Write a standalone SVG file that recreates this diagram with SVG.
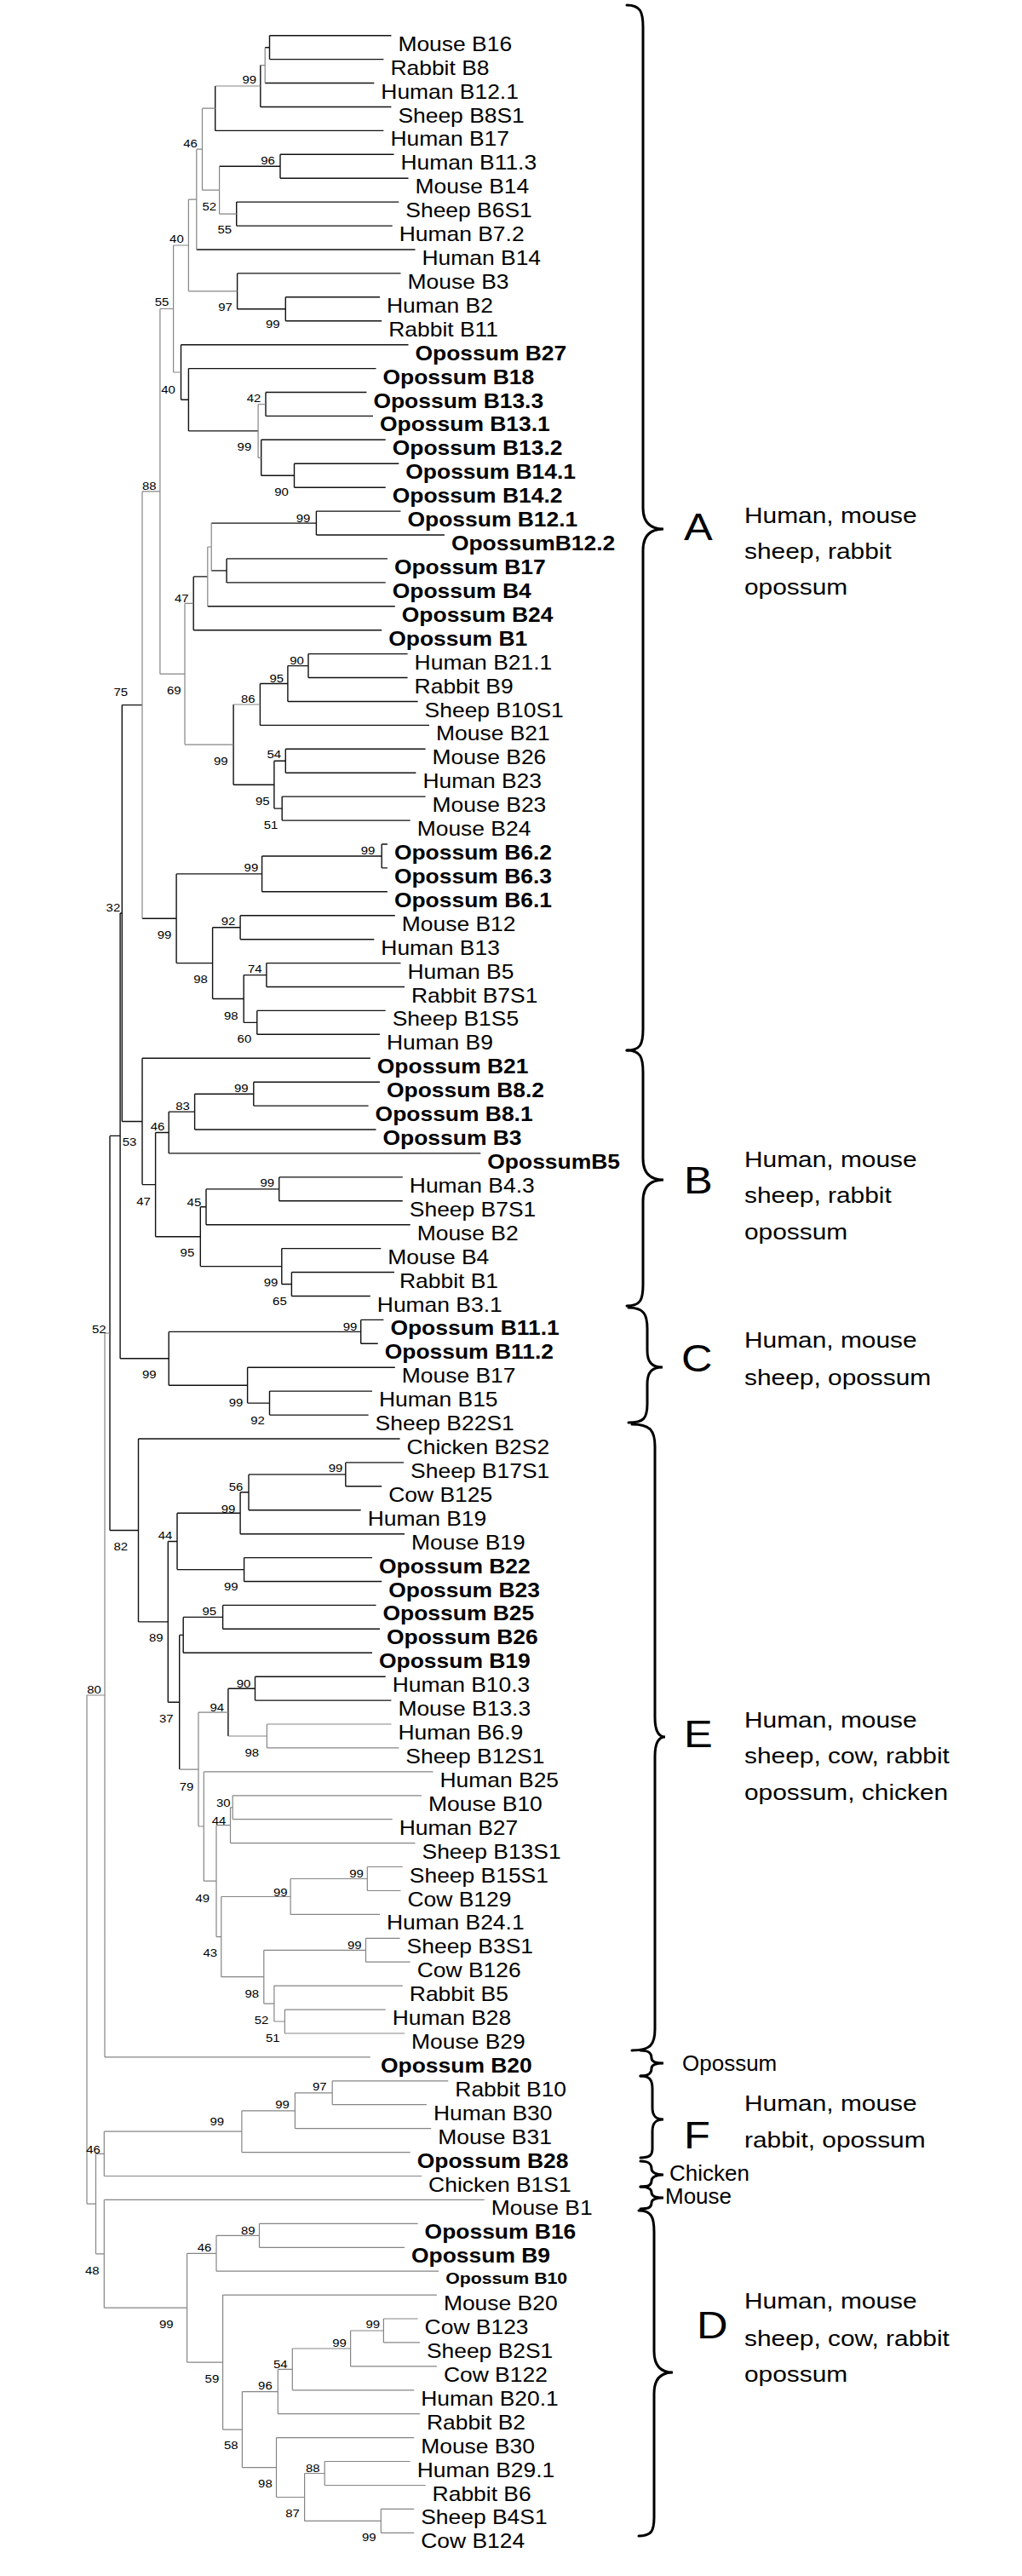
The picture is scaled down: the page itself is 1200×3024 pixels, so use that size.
<svg xmlns="http://www.w3.org/2000/svg" width="1200" height="3024" viewBox="0 0 1200 3024">
<style>
text{font-family:"Liberation Sans",Arial,Helvetica,sans-serif;fill:#000}
.l{font-size:23px}
.b{font-size:23px;font-weight:bold}
.s{font-size:18.5px;font-weight:bold}
.n{font-size:13px}
.gl{font-size:26px}
.L{font-size:44px}
.k{stroke:#111;stroke-width:1.4;fill:none}
.g{stroke:#858585;stroke-width:1.2;fill:none}
.br{stroke:#000;stroke-width:3;fill:none;stroke-linecap:round}
</style>
<rect width="1200" height="3024" fill="#fff"/>
<g id="connectors">
<path class="k" d="M316.5 41.7H459.4M316.5 69.6H450.4M311.2 97.5H439.3M305.8 125.5H459.4M252.7 153.4H450.4M329 181.3H462.5M329 209.2H479.5M277.7 237.1H468.3M277.7 265.1H460.7M230.8 293H487.5M278.6 320.9H470.5M335.3 348.8H446M335.3 376.7H448.2M212.5 404.7H479.5M221.4 432.6H441.5M312 460.5H430.4M312 488.4H438M306.7 516.3H452.7M345.5 544.3H468.3M345.5 572.2H452.7M371.4 600.1H470.5M371.4 628H521.9M266.1 655.9H454.9M266.1 683.9H452.7M243.8 711.8H463.8M227.2 739.7H448.2M362 767.6H478.6M362 795.5H478.6M337.9 823.5H490.6M305.4 851.4H504M335.3 879.3H499.6M335.3 907.2H488.4M331.2 935.1H499.6M331.2 963.1H481.7M448.2 991H454.9M448.2 1018.9H454.9M307.6 1046.8H454.9M282.1 1074.7H463.8M282.1 1102.7H439.3M312.9 1130.6H470.5M312.9 1158.5H475M301.8 1186.4H452.7M301.8 1214.3H446M167 1242.3H434.8M297.8 1270.2H446M297.8 1298.1H432.6M228.6 1326H441.5M198.2 1353.9H564.3M327.7 1381.9H472.8M327.7 1409.8H472.8M242 1437.7H481.7M330.8 1465.6H447.3M342.4 1493.5H463M342.4 1521.5H434.8M423.7 1549.4H450.4M423.7 1577.3H443.7M290.6 1605.2H463.8M316.5 1633.1H437M316.5 1661.1H432.6M162.5 1689H469.6M405.8 1716.9H474.1M405.8 1744.8H448.2M292 1772.7H423.7M282.1 1800.7H475M286.6 1828.6H437M286.6 1856.5H448.2M261.6 1884.4H441.5M261.6 1912.3H446M215.2 1940.3H437M299.5 1968.2H452.7M299.5 1996.1H459.4"/>
<path class="g" d="M313.4 2024H459.4M313.4 2051.9H468.3M239.3 2079.9H508.5M273.2 2107.8H495.1M273.2 2135.7H460.7M270.5 2163.6H487.5M431.3 2191.5H472.8M431.3 2219.5H470.5M341.1 2247.4H446M429.5 2275.3H469.6M429.5 2303.2H481.7M321.9 2331.1H472.8M334.4 2359.1H452.7M334.4 2387H475M123 2414.9H434.8M390.2 2442.8H526.3M390.2 2470.7H500.9M346.4 2498.7H506.2M283.9 2526.6H481.7M122.3 2554.5H495.1M122.3 2582.4H568.7M304.5 2610.3H490.6M304.5 2638.3H475M254 2666.2H515.2M261.6 2694.1H512.9M450.4 2722H490.6M450.4 2749.9H492.9M411.6 2777.9H512.9M343.3 2805.8H486.2M326.3 2833.7H492.9M324.5 2861.6H486.2M381.2 2889.5H481.7M381.2 2917.5H499.6M447.3 2945.4H486.2M447.3 2973.3H486.2"/>
<path class="k" d="M316.5 41.7V69.6M311.2 55.7H316.5M305.8 76.6V125.5M252.7 101V153.4M329 181.3V209.2M257.6 195.3H329M277.7 237.1V265.1M335.3 348.8V376.7M278.6 362.8H335.3M278.6 320.9V362.8M312 460.5V488.4M345.5 544.3V572.2M306.7 558.3H345.5M306.7 516.3V558.3M221.4 505.9H303.1M221.4 432.6V505.9M212.5 469.3H221.4M212.5 404.7V469.3M371.4 600.1V628M248.2 614.1H371.4M266.1 655.9V683.9M248.2 669.9H266.1M227.2 676.9H243.8M227.2 676.9V739.7M362 767.6V795.5M337.9 781.6H362M337.9 781.6V823.5M305.4 802.5H337.9M305.4 802.5V851.4M335.3 879.3V907.2M321.9 893.3H335.3M331.2 935.1V963.1M321.9 949.1H331.2M321.9 893.3V949.1M274.1 921.2H321.9M274.1 827V921.2M448.2 991V1018.9M307.6 1005H448.2M307.6 1005V1046.8M207.1 1025.9H307.6M282.1 1074.7V1102.7M249.6 1088.7H282.1M312.9 1130.6V1158.5M286.2 1144.6H312.9M301.8 1186.4V1214.3M286.2 1200.4H301.8M286.2 1144.6V1200.4M249.6 1172.5H286.2M249.6 1088.7V1172.5M207.1 1130.6H249.6M207.1 1025.9V1130.6M167 1078.3H207.1M143.3 827.6H167M297.8 1270.2V1298.1M228.6 1284.2H297.8M228.6 1284.2V1326M198.2 1305.1H228.6M198.2 1305.1V1353.9M182.6 1329.5H198.2M327.7 1381.9V1409.8M242 1395.9H327.7M242 1395.9V1437.7M235.3 1416.8H242M342.4 1493.5V1521.5M330.8 1507.5H342.4M330.8 1465.6V1507.5M235.3 1486.6H330.8M235.3 1416.8V1486.6M182.6 1451.7H235.3M182.6 1329.5V1451.7M167 1390.6H182.6M167 1242.3V1390.6M143.3 1316.5H167M143.3 827.6V1316.5M141.1 1072H143.3M423.7 1549.4V1577.3M198.2 1563.4H423.7M316.5 1633.1V1661.1M290.6 1647.1H316.5M290.6 1605.2V1647.1M198.2 1626.2H290.6M198.2 1563.4V1626.2M141.1 1594.8H198.2M141.1 1072V1594.8M129 1333.4H141.1M405.8 1716.9V1744.8M292 1730.9H405.8M292 1730.9V1772.7M282.1 1751.8H292M282.1 1751.8V1800.7M208 1776.3H282.1M286.6 1828.6V1856.5M208 1842.6H286.6M208 1776.3V1842.6M197.3 1809.5H208M261.6 1884.4V1912.3M215.2 1898.4H261.6M215.2 1898.4V1940.3M210.7 1919.4H215.2M299.5 1968.2V1996.1M267.9 1982.2H299.5M267.9 1982.2V2038M210.7 1919.4V2077.1M197.3 1998.3H210.7M197.3 1809.5V1998.3M162.5 1903.9H197.3M162.5 1689V1903.9M129 1796.5H162.5M129 1333.4V1796.5"/>
<path class="g" d="M311.2 55.7V97.5M305.8 76.6H311.2M252.7 101H305.8M237.5 127.2H252.7M257.6 251.1H277.7M257.6 195.3V251.1M237.5 223.2H257.6M237.5 127.2V223.2M230.8 175.2H237.5M230.8 175.2V293M221.4 234.1H230.8M221.4 341.8H278.6M221.4 234.1V341.8M203.6 288H221.4M303.1 474.5H312M303.1 537.3H306.7M303.1 474.5V537.3M203.6 437H212.5M203.6 288V437M187.9 362.5H203.6M248.2 614.1V669.9M243.8 642H248.2M243.8 642V711.8M217 708.3H227.2M274.1 827H305.4M217 874.1H274.1M217 708.3V874.1M187.9 791.2H217M187.9 362.5V791.2M167 576.9H187.9M167 576.9V1078.3M123 1565H129M233 2010.1H267.9M313.4 2024V2051.9M267.9 2038H313.4M273.2 2107.8V2135.7M270.5 2121.8H273.2M270.5 2121.8V2163.6M254 2142.7H270.5M431.3 2191.5V2219.5M341.1 2205.5H431.3M341.1 2205.5V2247.4M259.8 2226.5H341.1M429.5 2275.3V2303.2M309.8 2289.3H429.5M334.4 2359.1V2387M321.9 2373H334.4M321.9 2331.1V2373M309.8 2352.1H321.9M309.8 2289.3V2352.1M259.8 2320.7H309.8M259.8 2226.5V2320.7M254 2273.6H259.8M254 2142.7V2273.6M239.3 2208.2H254M239.3 2079.9V2208.2M233 2144H239.3M233 2010.1V2144M210.7 2077.1H233M123 1565V2414.9M102 1990H123M390.2 2442.8V2470.7M346.4 2456.8H390.2M346.4 2456.8V2498.7M283.9 2477.8H346.4M283.9 2477.8V2526.6M122.3 2502.2H283.9M122.3 2502.2V2554.5M112.5 2528.4H122.3M304.5 2610.3V2638.3M254 2624.3H304.5M254 2624.3V2666.2M219.6 2645.3H254M450.4 2722V2749.9M411.6 2736H450.4M411.6 2736V2777.9M343.3 2757H411.6M343.3 2757V2805.8M326.3 2781.4H343.3M326.3 2781.4V2833.7M284.4 2807.6H326.3M381.2 2889.5V2917.5M357.6 2903.5H381.2M447.3 2945.4V2973.3M357.6 2959.4H447.3M357.6 2903.5V2959.4M324.5 2931.5H357.6M324.5 2861.6V2931.5M284.4 2896.6H324.5M284.4 2807.6V2896.6M261.6 2852.1H284.4M261.6 2694.1V2852.1M219.6 2773.1H261.6M219.6 2645.3V2773.1M122.3 2709.2H219.6M122.3 2582.4V2709.2M112.5 2645.8H122.3M112.5 2528.4V2645.8M102 2587.1H112.5M102 1990V2587.1"/>
</g>
<g id="bootstrap">
<text class="n" transform="translate(284.4 97.7)scale(1.15 1)">99</text>
<text class="n" transform="translate(215.2 173.3)scale(1.15 1)">46</text>
<text class="n" transform="translate(306.3 192.7)scale(1.15 1)">96</text>
<text class="n" transform="translate(237.5 246.7)scale(1.15 1)">52</text>
<text class="n" transform="translate(255.4 274)scale(1.15 1)">55</text>
<text class="n" transform="translate(199.1 285)scale(1.15 1)">40</text>
<text class="n" transform="translate(181.7 359)scale(1.15 1)">55</text>
<text class="n" transform="translate(256.3 365)scale(1.15 1)">97</text>
<text class="n" transform="translate(312 385)scale(1.15 1)">99</text>
<text class="n" transform="translate(189.3 461.7)scale(1.15 1)">40</text>
<text class="n" transform="translate(289.7 471.7)scale(1.15 1)">42</text>
<text class="n" transform="translate(278.6 529.3)scale(1.15 1)">99</text>
<text class="n" transform="translate(167 575)scale(1.15 1)">88</text>
<text class="n" transform="translate(322.3 581.7)scale(1.15 1)">90</text>
<text class="n" transform="translate(347.8 613.3)scale(1.15 1)">99</text>
<text class="n" transform="translate(204.9 706.7)scale(1.15 1)">47</text>
<text class="n" transform="translate(340.2 780)scale(1.15 1)">90</text>
<text class="n" transform="translate(316.5 800.7)scale(1.15 1)">95</text>
<text class="n" transform="translate(133.5 816.7)scale(1.15 1)">75</text>
<text class="n" transform="translate(196 815)scale(1.15 1)">69</text>
<text class="n" transform="translate(283 825)scale(1.15 1)">86</text>
<text class="n" transform="translate(250.9 898.3)scale(1.15 1)">99</text>
<text class="n" transform="translate(313.4 890)scale(1.15 1)">54</text>
<text class="n" transform="translate(300 945)scale(1.15 1)">95</text>
<text class="n" transform="translate(309.8 972.7)scale(1.15 1)">51</text>
<text class="n" transform="translate(423.7 1003.3)scale(1.15 1)">99</text>
<text class="n" transform="translate(286.6 1022.7)scale(1.15 1)">99</text>
<text class="n" transform="translate(124.6 1070)scale(1.15 1)">32</text>
<text class="n" transform="translate(184.8 1101.7)scale(1.15 1)">99</text>
<text class="n" transform="translate(259.8 1086)scale(1.15 1)">92</text>
<text class="n" transform="translate(227.2 1154)scale(1.15 1)">98</text>
<text class="n" transform="translate(291 1141.7)scale(1.15 1)">74</text>
<text class="n" transform="translate(263 1196.7)scale(1.15 1)">98</text>
<text class="n" transform="translate(278.6 1224)scale(1.15 1)">60</text>
<text class="n" transform="translate(275 1282.3)scale(1.15 1)">99</text>
<text class="n" transform="translate(206.3 1303.3)scale(1.15 1)">83</text>
<text class="n" transform="translate(176.8 1327.3)scale(1.15 1)">46</text>
<text class="n" transform="translate(143.8 1345)scale(1.15 1)">53</text>
<text class="n" transform="translate(305.4 1393.3)scale(1.15 1)">99</text>
<text class="n" transform="translate(219.6 1415.7)scale(1.15 1)">45</text>
<text class="n" transform="translate(160.3 1415)scale(1.15 1)">47</text>
<text class="n" transform="translate(211.6 1475)scale(1.15 1)">95</text>
<text class="n" transform="translate(309.8 1510)scale(1.15 1)">99</text>
<text class="n" transform="translate(320.1 1531.7)scale(1.15 1)">65</text>
<text class="n" transform="translate(108 1565)scale(1.15 1)">52</text>
<text class="n" transform="translate(402.7 1561.7)scale(1.15 1)">99</text>
<text class="n" transform="translate(167 1618.3)scale(1.15 1)">99</text>
<text class="n" transform="translate(268.8 1650.7)scale(1.15 1)">99</text>
<text class="n" transform="translate(294.2 1671.7)scale(1.15 1)">92</text>
<text class="n" transform="translate(385.7 1728.3)scale(1.15 1)">99</text>
<text class="n" transform="translate(268.8 1750)scale(1.15 1)">56</text>
<text class="n" transform="translate(259.8 1776)scale(1.15 1)">99</text>
<text class="n" transform="translate(185.7 1807.3)scale(1.15 1)">44</text>
<text class="n" transform="translate(133.5 1820)scale(1.15 1)">82</text>
<text class="n" transform="translate(263 1867.3)scale(1.15 1)">99</text>
<text class="n" transform="translate(237.5 1896)scale(1.15 1)">95</text>
<text class="n" transform="translate(175 1926.7)scale(1.15 1)">89</text>
<text class="n" transform="translate(277.7 1980.7)scale(1.15 1)">90</text>
<text class="n" transform="translate(102.2 1988.3)scale(1.15 1)">80</text>
<text class="n" transform="translate(246.4 2008.5)scale(1.15 1)">94</text>
<text class="n" transform="translate(187 2021.7)scale(1.15 1)">37</text>
<text class="n" transform="translate(287.5 2061.7)scale(1.15 1)">98</text>
<text class="n" transform="translate(210.7 2101.7)scale(1.15 1)">79</text>
<text class="n" transform="translate(254 2120.7)scale(1.15 1)">30</text>
<text class="n" transform="translate(248.7 2141.7)scale(1.15 1)">44</text>
<text class="n" transform="translate(410.3 2204)scale(1.15 1)">99</text>
<text class="n" transform="translate(321 2226)scale(1.15 1)">99</text>
<text class="n" transform="translate(229.5 2233.3)scale(1.15 1)">49</text>
<text class="n" transform="translate(408 2288.3)scale(1.15 1)">99</text>
<text class="n" transform="translate(238.4 2296.7)scale(1.15 1)">43</text>
<text class="n" transform="translate(287.5 2345)scale(1.15 1)">98</text>
<text class="n" transform="translate(298.7 2376)scale(1.15 1)">52</text>
<text class="n" transform="translate(312 2396.7)scale(1.15 1)">51</text>
<text class="n" transform="translate(367 2454)scale(1.15 1)">97</text>
<text class="n" transform="translate(323.2 2475)scale(1.15 1)">99</text>
<text class="n" transform="translate(246.4 2495)scale(1.15 1)">99</text>
<text class="n" transform="translate(101.3 2528.3)scale(1.15 1)">46</text>
<text class="n" transform="translate(100 2670)scale(1.15 1)">48</text>
<text class="n" transform="translate(283 2622.7)scale(1.15 1)">89</text>
<text class="n" transform="translate(231.7 2643.3)scale(1.15 1)">46</text>
<text class="n" transform="translate(187 2733.3)scale(1.15 1)">99</text>
<text class="n" transform="translate(429.5 2733.3)scale(1.15 1)">99</text>
<text class="n" transform="translate(390.2 2755)scale(1.15 1)">99</text>
<text class="n" transform="translate(321 2780)scale(1.15 1)">54</text>
<text class="n" transform="translate(240.6 2797.3)scale(1.15 1)">59</text>
<text class="n" transform="translate(303.1 2805)scale(1.15 1)">96</text>
<text class="n" transform="translate(263 2875)scale(1.15 1)">58</text>
<text class="n" transform="translate(358.9 2901.7)scale(1.15 1)">88</text>
<text class="n" transform="translate(303.1 2920)scale(1.15 1)">98</text>
<text class="n" transform="translate(335.3 2955)scale(1.15 1)">87</text>
<text class="n" transform="translate(425 2983.3)scale(1.15 1)">99</text>
</g>
<g id="leaves">
<g id="leaf1"><text class="l" transform="translate(467.4 59.7)scale(1.15 1)">Mouse B16</text></g>
<g id="leaf2"><text class="l" transform="translate(458.4 87.6)scale(1.15 1)">Rabbit B8</text></g>
<g id="leaf3"><text class="l" transform="translate(447.3 115.5)scale(1.15 1)">Human B12.1</text></g>
<g id="leaf4"><text class="l" transform="translate(467.4 143.5)scale(1.15 1)">Sheep B8S1</text></g>
<g id="leaf5"><text class="l" transform="translate(458.4 171.4)scale(1.15 1)">Human B17</text></g>
<g id="leaf6"><text class="l" transform="translate(470.5 199.3)scale(1.15 1)">Human B11.3</text></g>
<g id="leaf7"><text class="l" transform="translate(487.5 227.2)scale(1.15 1)">Mouse B14</text></g>
<g id="leaf8"><text class="l" transform="translate(476.3 255.1)scale(1.15 1)">Sheep B6S1</text></g>
<g id="leaf9"><text class="l" transform="translate(468.7 283.1)scale(1.15 1)">Human B7.2</text></g>
<g id="leaf10"><text class="l" transform="translate(495.5 311)scale(1.15 1)">Human B14</text></g>
<g id="leaf11"><text class="l" transform="translate(478.5 338.9)scale(1.15 1)">Mouse B3</text></g>
<g id="leaf12"><text class="l" transform="translate(454 366.8)scale(1.15 1)">Human B2</text></g>
<g id="leaf13"><text class="l" transform="translate(456.2 394.7)scale(1.15 1)">Rabbit B11</text></g>
<g id="leaf14"><text class="b" transform="translate(487.5 422.7)scale(1.15 1)">Opossum B27</text></g>
<g id="leaf15"><text class="b" transform="translate(449.5 450.6)scale(1.15 1)">Opossum B18</text></g>
<g id="leaf16"><text class="b" transform="translate(438.4 478.5)scale(1.15 1)">Opossum B13.3</text></g>
<g id="leaf17"><text class="b" transform="translate(446 506.4)scale(1.15 1)">Opossum B13.1</text></g>
<g id="leaf18"><text class="b" transform="translate(460.7 534.3)scale(1.15 1)">Opossum B13.2</text></g>
<g id="leaf19"><text class="b" transform="translate(476.3 562.3)scale(1.15 1)">Opossum B14.1</text></g>
<g id="leaf20"><text class="b" transform="translate(460.7 590.2)scale(1.15 1)">Opossum B14.2</text></g>
<g id="leaf21"><text class="b" transform="translate(478.5 618.1)scale(1.15 1)">Opossum B12.1</text></g>
<g id="leaf22"><text class="b" transform="translate(529.9 646)scale(1.15 1)">OpossumB12.2</text></g>
<g id="leaf23"><text class="b" transform="translate(462.9 673.9)scale(1.15 1)">Opossum B17</text></g>
<g id="leaf24"><text class="b" transform="translate(460.7 701.9)scale(1.15 1)">Opossum B4</text></g>
<g id="leaf25"><text class="b" transform="translate(471.8 729.8)scale(1.15 1)">Opossum B24</text></g>
<g id="leaf26"><text class="b" transform="translate(456.2 757.7)scale(1.15 1)">Opossum B1</text></g>
<g id="leaf27"><text class="l" transform="translate(486.6 785.6)scale(1.15 1)">Human B21.1</text></g>
<g id="leaf28"><text class="l" transform="translate(486.6 813.5)scale(1.15 1)">Rabbit B9</text></g>
<g id="leaf29"><text class="l" transform="translate(498.6 841.5)scale(1.15 1)">Sheep B10S1</text></g>
<g id="leaf30"><text class="l" transform="translate(512 869.4)scale(1.15 1)">Mouse B21</text></g>
<g id="leaf31"><text class="l" transform="translate(507.6 897.3)scale(1.15 1)">Mouse B26</text></g>
<g id="leaf32"><text class="l" transform="translate(496.4 925.2)scale(1.15 1)">Human B23</text></g>
<g id="leaf33"><text class="l" transform="translate(507.6 953.1)scale(1.15 1)">Mouse B23</text></g>
<g id="leaf34"><text class="l" transform="translate(489.7 981.1)scale(1.15 1)">Mouse B24</text></g>
<g id="leaf35"><text class="b" transform="translate(462.9 1009)scale(1.15 1)">Opossum B6.2</text></g>
<g id="leaf36"><text class="b" transform="translate(462.9 1036.9)scale(1.15 1)">Opossum B6.3</text></g>
<g id="leaf37"><text class="b" transform="translate(462.9 1064.8)scale(1.15 1)">Opossum B6.1</text></g>
<g id="leaf38"><text class="l" transform="translate(471.8 1092.7)scale(1.15 1)">Mouse B12</text></g>
<g id="leaf39"><text class="l" transform="translate(447.3 1120.7)scale(1.15 1)">Human B13</text></g>
<g id="leaf40"><text class="l" transform="translate(478.5 1148.6)scale(1.15 1)">Human B5</text></g>
<g id="leaf41"><text class="l" transform="translate(483 1176.5)scale(1.15 1)">Rabbit B7S1</text></g>
<g id="leaf42"><text class="l" transform="translate(460.7 1204.4)scale(1.15 1)">Sheep B1S5</text></g>
<g id="leaf43"><text class="l" transform="translate(454 1232.3)scale(1.15 1)">Human B9</text></g>
<g id="leaf44"><text class="b" transform="translate(442.8 1260.3)scale(1.15 1)">Opossum B21</text></g>
<g id="leaf45"><text class="b" transform="translate(454 1288.2)scale(1.15 1)">Opossum B8.2</text></g>
<g id="leaf46"><text class="b" transform="translate(440.6 1316.1)scale(1.15 1)">Opossum B8.1</text></g>
<g id="leaf47"><text class="b" transform="translate(449.5 1344)scale(1.15 1)">Opossum B3</text></g>
<g id="leaf48"><text class="b" transform="translate(572.3 1371.9)scale(1.15 1)">OpossumB5</text></g>
<g id="leaf49"><text class="l" transform="translate(480.8 1399.9)scale(1.15 1)">Human B4.3</text></g>
<g id="leaf50"><text class="l" transform="translate(480.8 1427.8)scale(1.15 1)">Sheep B7S1</text></g>
<g id="leaf51"><text class="l" transform="translate(489.7 1455.7)scale(1.15 1)">Mouse B2</text></g>
<g id="leaf52"><text class="l" transform="translate(455.3 1483.6)scale(1.15 1)">Mouse B4</text></g>
<g id="leaf53"><text class="l" transform="translate(469 1511.5)scale(1.15 1)">Rabbit B1</text></g>
<g id="leaf54"><text class="l" transform="translate(442.8 1539.5)scale(1.15 1)">Human B3.1</text></g>
<g id="leaf55"><text class="b" transform="translate(458.4 1567.4)scale(1.15 1)">Opossum B11.1</text></g>
<g id="leaf56"><text class="b" transform="translate(451.7 1595.3)scale(1.15 1)">Opossum B11.2</text></g>
<g id="leaf57"><text class="l" transform="translate(471.8 1623.2)scale(1.15 1)">Mouse B17</text></g>
<g id="leaf58"><text class="l" transform="translate(445 1651.1)scale(1.15 1)">Human B15</text></g>
<g id="leaf59"><text class="l" transform="translate(440.6 1679.1)scale(1.15 1)">Sheep B22S1</text></g>
<g id="leaf60"><text class="l" transform="translate(477.6 1707)scale(1.15 1)">Chicken B2S2</text></g>
<g id="leaf61"><text class="l" transform="translate(482.1 1734.9)scale(1.15 1)">Sheep B17S1</text></g>
<g id="leaf62"><text class="l" transform="translate(456.2 1762.8)scale(1.15 1)">Cow B125</text></g>
<g id="leaf63"><text class="l" transform="translate(431.7 1790.7)scale(1.15 1)">Human B19</text></g>
<g id="leaf64"><text class="l" transform="translate(483 1818.7)scale(1.15 1)">Mouse B19</text></g>
<g id="leaf65"><text class="b" transform="translate(445 1846.6)scale(1.15 1)">Opossum B22</text></g>
<g id="leaf66"><text class="b" transform="translate(456.2 1874.5)scale(1.15 1)">Opossum B23</text></g>
<g id="leaf67"><text class="b" transform="translate(449.5 1902.4)scale(1.15 1)">Opossum B25</text></g>
<g id="leaf68"><text class="b" transform="translate(454 1930.3)scale(1.15 1)">Opossum B26</text></g>
<g id="leaf69"><text class="b" transform="translate(445 1958.3)scale(1.15 1)">Opossum B19</text></g>
<g id="leaf70"><text class="l" transform="translate(460.7 1986.2)scale(1.15 1)">Human B10.3</text></g>
<g id="leaf71"><text class="l" transform="translate(467.4 2014.1)scale(1.15 1)">Mouse B13.3</text></g>
<g id="leaf72"><text class="l" transform="translate(467.4 2042)scale(1.15 1)">Human B6.9</text></g>
<g id="leaf73"><text class="l" transform="translate(476.3 2069.9)scale(1.15 1)">Sheep B12S1</text></g>
<g id="leaf74"><text class="l" transform="translate(516.5 2097.9)scale(1.15 1)">Human B25</text></g>
<g id="leaf75"><text class="l" transform="translate(503.1 2125.8)scale(1.15 1)">Mouse B10</text></g>
<g id="leaf76"><text class="l" transform="translate(468.7 2153.7)scale(1.15 1)">Human B27</text></g>
<g id="leaf77"><text class="l" transform="translate(495.5 2181.6)scale(1.15 1)">Sheep B13S1</text></g>
<g id="leaf78"><text class="l" transform="translate(480.8 2209.5)scale(1.15 1)">Sheep B15S1</text></g>
<g id="leaf79"><text class="l" transform="translate(478.5 2237.5)scale(1.15 1)">Cow B129</text></g>
<g id="leaf80"><text class="l" transform="translate(454 2265.4)scale(1.15 1)">Human B24.1</text></g>
<g id="leaf81"><text class="l" transform="translate(477.6 2293.3)scale(1.15 1)">Sheep B3S1</text></g>
<g id="leaf82"><text class="l" transform="translate(489.7 2321.2)scale(1.15 1)">Cow B126</text></g>
<g id="leaf83"><text class="l" transform="translate(480.8 2349.1)scale(1.15 1)">Rabbit B5</text></g>
<g id="leaf84"><text class="l" transform="translate(460.7 2377.1)scale(1.15 1)">Human B28</text></g>
<g id="leaf85"><text class="l" transform="translate(483 2405)scale(1.15 1)">Mouse B29</text></g>
<g id="leaf86"><text class="b" transform="translate(447 2432.9)scale(1.15 1)">Opossum B20</text></g>
<g id="leaf87"><text class="l" transform="translate(534.3 2460.8)scale(1.15 1)">Rabbit B10</text></g>
<g id="leaf88"><text class="l" transform="translate(508.9 2488.7)scale(1.15 1)">Human B30</text></g>
<g id="leaf89"><text class="l" transform="translate(514.2 2516.7)scale(1.15 1)">Mouse B31</text></g>
<g id="leaf90"><text class="b" transform="translate(489.7 2544.6)scale(1.15 1)">Opossum B28</text></g>
<g id="leaf91"><text class="l" transform="translate(503.1 2572.5)scale(1.15 1)">Chicken B1S1</text></g>
<g id="leaf92"><text class="l" transform="translate(576.7 2600.4)scale(1.15 1)">Mouse B1</text></g>
<g id="leaf93"><text class="b" transform="translate(498.6 2628.3)scale(1.15 1)">Opossum B16</text></g>
<g id="leaf94"><text class="b" transform="translate(483 2656.3)scale(1.15 1)">Opossum B9</text></g>
<g id="leaf95"><text class="s" transform="translate(523.2 2681)scale(1.15 1)">Opossum B10</text></g>
<g id="leaf96"><text class="l" transform="translate(520.9 2712.1)scale(1.15 1)">Mouse B20</text></g>
<g id="leaf97"><text class="l" transform="translate(498.6 2740)scale(1.15 1)">Cow B123</text></g>
<g id="leaf98"><text class="l" transform="translate(500.9 2767.9)scale(1.15 1)">Sheep B2S1</text></g>
<g id="leaf99"><text class="l" transform="translate(520.9 2795.9)scale(1.15 1)">Cow B122</text></g>
<g id="leaf100"><text class="l" transform="translate(494.2 2823.8)scale(1.15 1)">Human B20.1</text></g>
<g id="leaf101"><text class="l" transform="translate(500.9 2851.7)scale(1.15 1)">Rabbit B2</text></g>
<g id="leaf102"><text class="l" transform="translate(494.2 2879.6)scale(1.15 1)">Mouse B30</text></g>
<g id="leaf103"><text class="l" transform="translate(489.7 2907.5)scale(1.15 1)">Human B29.1</text></g>
<g id="leaf104"><text class="l" transform="translate(507.6 2935.5)scale(1.15 1)">Rabbit B6</text></g>
<g id="leaf105"><text class="l" transform="translate(494.2 2963.4)scale(1.15 1)">Sheep B4S1</text></g>
<g id="leaf106"><text class="l" transform="translate(494.2 2991.3)scale(1.15 1)">Cow B124</text></g>
</g>
<g id="groups">
<g id="groupA">
<path class="br" d="M736 6C752 6 755 14 755 32L755 596C755 612 762 621 779 621C762 621 755 630 755 646L755 1208C755 1226 752 1233 736 1233"/>
<text class="L" transform="translate(803 634)scale(1.15 1)">A</text>
<text class="gl" transform="translate(874 614)scale(1.15 1)">Human, mouse</text>
<text class="gl" transform="translate(874 656)scale(1.15 1)">sheep, rabbit</text>
<text class="gl" transform="translate(874 698)scale(1.15 1)">opossum</text>
</g>
<g id="groupB">
<path class="br" d="M736 1233C752 1233 755 1241 755 1259L755 1360C755 1376 762 1385 779 1385C762 1385 755 1394 755 1410L755 1508C755 1526 752 1533 736 1533"/>
<text class="L" transform="translate(803 1401)scale(1.15 1)">B</text>
<text class="gl" transform="translate(874 1370)scale(1.15 1)">Human, mouse</text>
<text class="gl" transform="translate(874 1412)scale(1.15 1)">sheep, rabbit</text>
<text class="gl" transform="translate(874 1455)scale(1.15 1)">opossum</text>
</g>
<g id="groupC">
<path class="br" d="M738 1535C756 1535 760 1543 760 1560L760 1585C760 1599 765 1605 778 1605C765 1605 760 1611 760 1625L760 1648C760 1665 756 1670 738 1670"/>
<text class="L" transform="translate(800 1610)scale(1.15 1)">C</text>
<text class="gl" transform="translate(874 1582)scale(1.15 1)">Human, mouse</text>
<text class="gl" transform="translate(874 1626)scale(1.15 1)">sheep, opossum</text>
</g>
<g id="groupE">
<path class="br" d="M742 1672C764 1672 769 1680 769 1698L769 2016C769 2031 773 2039 781 2039C773 2039 769 2047 769 2062L769 2382C769 2400 764 2407 742 2407"/>
<text class="L" transform="translate(803 2051)scale(1.15 1)">E</text>
<text class="gl" transform="translate(874 2028)scale(1.15 1)">Human, mouse</text>
<text class="gl" transform="translate(874 2070)scale(1.15 1)">sheep, cow, rabbit</text>
<text class="gl" transform="translate(874 2113)scale(1.15 1)">opossum, chicken</text>
</g>
<g id="groupOpossum">
<path class="br" d="M752 2407C762 2407 765 2410 765 2416C765 2420 770 2422 779 2422C770 2422 765 2424 765 2428C765 2434 762 2437 752 2437"/>
<text class="gl" x="801" y="2431">Opossum</text>
</g>
<g id="groupF">
<path class="br" d="M752 2437C763 2437 766 2442 766 2452L766 2474C766 2484 770 2488 779 2488C770 2488 766 2492 766 2502L766 2522C766 2530 763 2533 752 2533"/>
<text class="L" transform="translate(803 2522)scale(1.15 1)">F</text>
<text class="gl" transform="translate(874 2478)scale(1.15 1)">Human, mouse</text>
<text class="gl" transform="translate(874 2521)scale(1.15 1)">rabbit, opossum</text>
</g>
<g id="groupChicken">
<path class="br" d="M752 2537C762 2537 765 2540 765 2546C765 2550 770 2553 779 2553C770 2553 765 2556 765 2560C765 2565 762 2567 752 2567"/>
<text class="gl" x="786" y="2560">Chicken</text>
</g>
<g id="groupMouse">
<path class="br" d="M752 2567C762 2567 765 2570 765 2574C765 2578 770 2580 779 2580C770 2580 765 2582 765 2586C765 2591 762 2593 752 2593"/>
<text class="gl" x="781" y="2587">Mouse</text>
</g>
<g id="groupD">
<path class="br" d="M750 2595C765 2595 768 2603 768 2620L768 2760C768 2777 776 2785 790 2785C776 2785 768 2793 768 2810L768 2955C768 2971 765 2977 750 2977"/>
<text class="L" transform="translate(818 2745)scale(1.15 1)">D</text>
<text class="gl" transform="translate(874 2710)scale(1.15 1)">Human, mouse</text>
<text class="gl" transform="translate(874 2754)scale(1.15 1)">sheep, cow, rabbit</text>
<text class="gl" transform="translate(874 2796)scale(1.15 1)">opossum</text>
</g>
</g>
</svg>
